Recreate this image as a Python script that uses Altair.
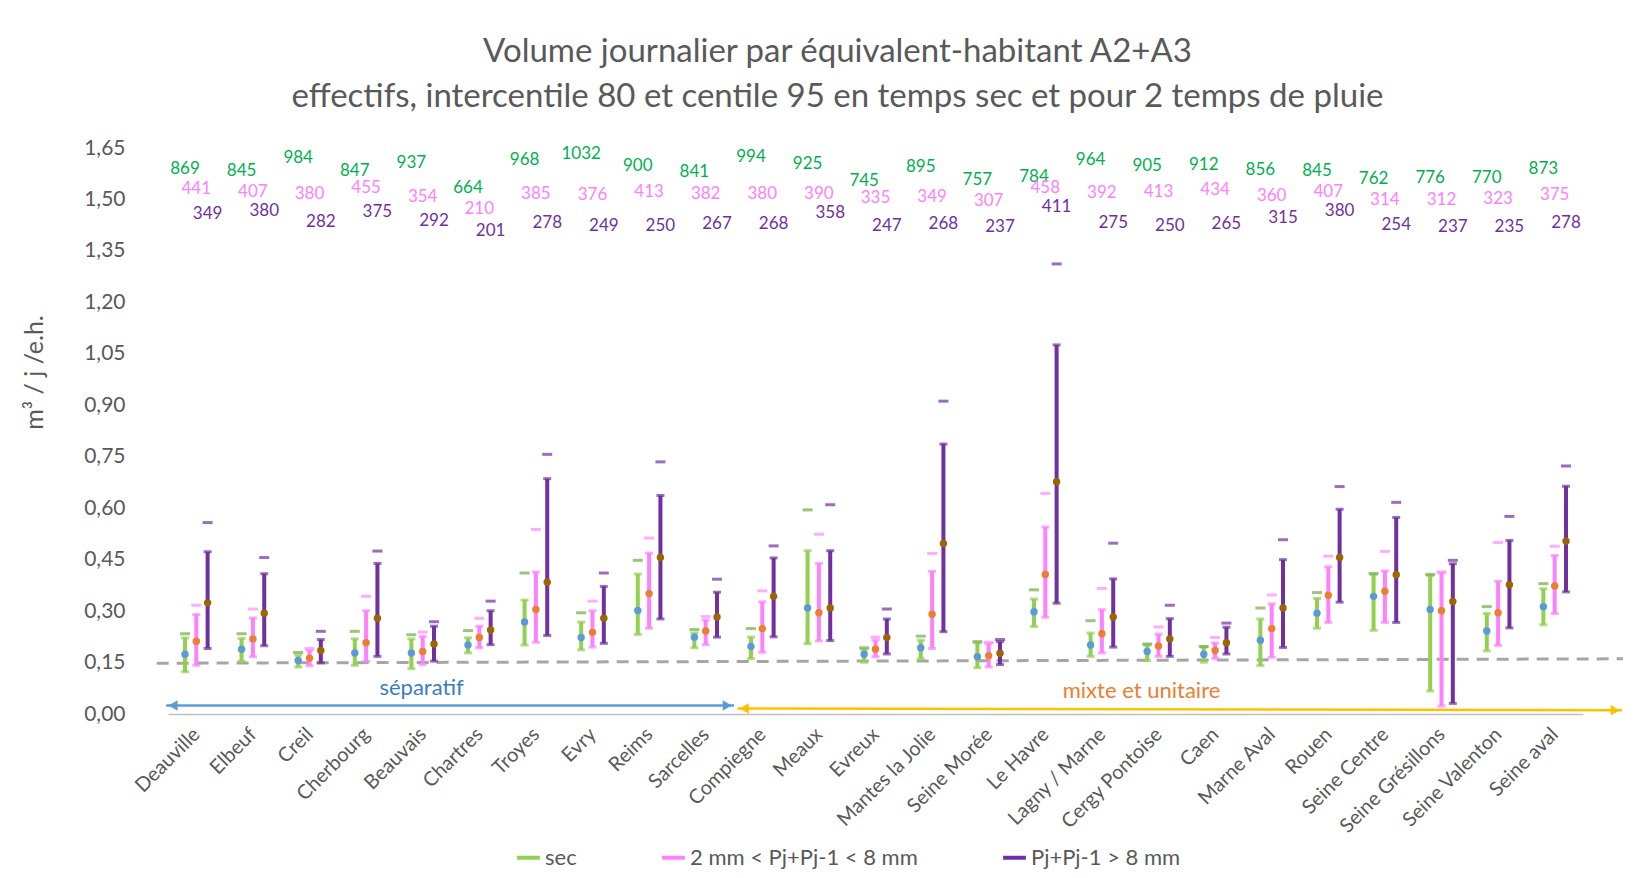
import json
import altair as alt
import pandas as pd

cities = ["Deauville", "Elbeuf", "Creil", "Cherbourg", "Beauvais", "Chartres", "Troyes",
          "Evry", "Reims", "Sarcelles", "Compiegne", "Meaux", "Evreux", "Mantes la Jolie",
          "Seine Morée", "Le Havre", "Lagny / Marne", "Cergy Pontoise", "Caen", "Marne Aval",
          "Rouen", "Seine Centre", "Seine Grésillons", "Seine Valenton", "Seine aval"]

# sec (temps sec): P10, P90, médiane, centile 95
sec_lo = [0.123, 0.154, 0.137, 0.142, 0.132, 0.178, 0.201, 0.187, 0.232, 0.193, 0.161, 0.205, 0.151,
          0.161, 0.135, 0.255, 0.168, 0.156, 0.151, 0.141, 0.250, 0.244, 0.067, 0.184, 0.260]
sec_hi = [0.222, 0.220, 0.171, 0.219, 0.219, 0.222, 0.332, 0.268, 0.408, 0.236, 0.224, 0.476, 0.188,
          0.215, 0.207, 0.335, 0.236, 0.201, 0.195, 0.277, 0.337, 0.406, 0.403, 0.293, 0.365]
sec_mid = [0.174, 0.189, 0.156, 0.178, 0.178, 0.201, 0.268, 0.223, 0.302, 0.224, 0.197, 0.309, 0.174,
           0.193, 0.167, 0.298, 0.201, 0.182, 0.174, 0.215, 0.294, 0.343, 0.305, 0.242, 0.313]
sec_c95 = [0.234, 0.234, 0.179, 0.241, 0.231, 0.243, 0.411, 0.295, 0.448, 0.246, 0.249, 0.595, 0.193,
           0.227, 0.211, 0.362, 0.272, 0.204, 0.197, 0.309, 0.354, 0.410, 0.407, 0.313, 0.380]

# 2 mm < Pj+Pj-1 < 8 mm
p28_lo = [0.142, 0.167, 0.141, 0.154, 0.144, 0.193, 0.209, 0.195, 0.250, 0.202, 0.180, 0.213, 0.167,
          0.191, 0.137, 0.282, 0.178, 0.168, 0.162, 0.165, 0.267, 0.267, 0.023, 0.200, 0.293]
p28_hi = [0.290, 0.280, 0.186, 0.301, 0.226, 0.256, 0.414, 0.301, 0.469, 0.274, 0.327, 0.439, 0.215,
          0.416, 0.205, 0.545, 0.304, 0.233, 0.207, 0.321, 0.429, 0.417, 0.412, 0.387, 0.462]
p28_mid = [0.212, 0.219, 0.163, 0.208, 0.182, 0.223, 0.305, 0.238, 0.351, 0.242, 0.249, 0.295, 0.189,
           0.291, 0.170, 0.407, 0.234, 0.198, 0.185, 0.249, 0.346, 0.358, 0.301, 0.295, 0.373]
p28_c95 = [0.317, 0.306, 0.191, 0.343, 0.239, 0.279, 0.538, 0.329, 0.513, 0.284, 0.359, 0.524, 0.224,
           0.468, 0.209, 0.643, 0.366, 0.254, 0.223, 0.347, 0.460, 0.474, 0.414, 0.500, 0.489]

# Pj+Pj-1 > 8 mm
p8_lo = [0.191, 0.199, 0.149, 0.168, 0.154, 0.202, 0.229, 0.206, 0.277, 0.224, 0.225, 0.214, 0.175,
         0.240, 0.144, 0.323, 0.195, 0.168, 0.175, 0.194, 0.326, 0.267, 0.031, 0.251, 0.356]
p8_hi = [0.473, 0.409, 0.217, 0.439, 0.256, 0.301, 0.686, 0.372, 0.637, 0.355, 0.455, 0.476, 0.277,
         0.787, 0.211, 1.076, 0.394, 0.278, 0.253, 0.450, 0.597, 0.573, 0.438, 0.506, 0.664]
p8_mid = [0.324, 0.294, 0.185, 0.279, 0.204, 0.245, 0.384, 0.279, 0.456, 0.283, 0.343, 0.309, 0.223,
          0.497, 0.177, 0.677, 0.283, 0.219, 0.208, 0.309, 0.456, 0.406, 0.328, 0.377, 0.504]
p8_c95 = [0.558, 0.456, 0.241, 0.475, 0.269, 0.329, 0.757, 0.411, 0.735, 0.393, 0.490, 0.610, 0.306,
          0.912, 0.217, 1.312, 0.498, 0.317, 0.265, 0.508, 0.663, 0.617, 0.448, 0.576, 0.723]

# effectifs
sec_n = [869, 845, 984, 847, 937, 664, 968, 1032, 900, 841, 994, 925, 745, 895, 757, 784, 964, 905,
         912, 856, 845, 762, 776, 770, 873]
p28_n = [441, 407, 380, 455, 354, 210, 385, 376, 413, 382, 380, 390, 335, 349, 307, 458, 392, 413,
         434, 360, 407, 314, 312, 323, 375]
p8_n = [349, 380, 282, 375, 292, 201, 278, 249, 250, 267, 268, 358, 247, 268, 237, 411, 275, 250,
        265, 315, 380, 254, 237, 235, 278]

series_names = ["sec", "2 mm < Pj+Pj-1 < 8 mm", "Pj+Pj-1 >  8 mm"]

# annotation / reference geometry (data space)
ref_x = [-0.7, 25.4]
ref_y = [0.148, 0.161]
sep_x = [-0.53, 9.5]
sep_y = [0.025, 0.025]
mix_x = [9.56, 25.19]
mix_y = [0.016, 0.011]

# styles
bar_colors = ["#92D050", "#FF80FF", "#7030A0"]
dash_colors = ["#70AD47", "#FF8CFF", "#7030A0"]
dot_colors = ["#5B9BD5", "#ED7D31", "#9C6500"]
text_colors = ["#00B050", "#FF80FF", "#7030A0"]
offsets = [-0.2, 0.0, 0.2]
label_base = [1.351, 1.417, 1.340]
label_slope = [0.000273, 0.000257, 0.000333]
FONT = "Lato"
GREY = "#595959"

rows = []
groups = [(sec_lo, sec_hi, sec_mid, sec_c95, sec_n),
          (p28_lo, p28_hi, p28_mid, p28_c95, p28_n),
          (p8_lo, p8_hi, p8_mid, p8_c95, p8_n)]
for s, (lo, hi, mid, c95, n) in enumerate(groups):
    for i, c in enumerate(cities):
        rows.append({"idx": i, "city": c, "s": s, "series": series_names[s],
                     "lo": lo[i], "hi": hi[i], "mid": mid[i], "c95": c95[i], "n": n[i],
                     "bar_col": bar_colors[s], "dash_col": dash_colors[s],
                     "dot_col": dot_colors[s], "txt_col": text_colors[s]})
df = pd.DataFrame(rows)

label_expr = json.dumps(cities, ensure_ascii=False) + "[datum.value]"
ytitle = "m³ / j /e.h."

xscale = alt.Scale(domain=[-0.5, 24.5], nice=False, zero=False)
yscale = alt.Scale(domain=[0, 1.65], nice=False, zero=True)

xaxis = alt.Axis(values=list(range(25)), labelExpr=label_expr, labelAngle=-45,
                 labelAlign="right", labelBaseline="middle", labelFontSize=20,
                 labelColor=GREY, labelPadding=17, ticks=False, grid=False,
                 domainColor="#BFBFBF", domainWidth=1.5, labelFont=FONT, labelOverlap=False)
yaxis = alt.Axis(values=[round(0.15 * k, 2) for k in range(12)],
                 labelExpr="replace(format(datum.value, '.2f'), '.', ',')",
                 labelFontSize=21, labelColor=GREY, labelPadding=43, ticks=False,
                 domain=False, grid=False, labelFont=FONT,
                 titleFont=FONT, titleFontSize=25, titleColor=GREY, titleFontWeight="normal",
                 titleX=-134, titleY=224, titleAlign="center", titleBaseline="middle",
                 titleAngle=-90)


def X(field="xp"):
    return alt.X(f"{field}:Q", scale=xscale, axis=xaxis, title=None)


def Y(field):
    return alt.Y(f"{field}:Q", scale=yscale, axis=yaxis, title=ytitle)


base = alt.Chart(df).transform_calculate(
    xp=f"datum.idx + {json.dumps(offsets)}[datum.s]",
    ly=f"{json.dumps(label_base)}[datum.s] + {json.dumps(label_slope)}[datum.s] * datum.n",
)

bars = base.mark_rule(strokeWidth=4).encode(
    x=X(), y=Y("lo"), y2="hi:Q",
    color=alt.Color("series:N",
                    scale=alt.Scale(domain=series_names, range=bar_colors),
                    legend=alt.Legend(title=None, orient="none", direction="horizontal",
                                      legendX=347, legendY=696, columnPadding=77,
                                      labelFontSize=22, labelColor=GREY, labelFont=FONT,
                                      labelLimit=500,
                                      symbolType="stroke", symbolStrokeWidth=4,
                                      symbolSize=520, labelOffset=3, padding=0)),
)
cap_lo = base.mark_tick(orient="horizontal", size=8, thickness=3).encode(
    x=X(), y=Y("lo"), color=alt.Color("bar_col:N", scale=None))
cap_hi = base.mark_tick(orient="horizontal", size=8, thickness=3).encode(
    x=X(), y=Y("hi"), color=alt.Color("bar_col:N", scale=None))
dash = base.mark_tick(orient="horizontal", size=10, thickness=3).encode(
    x=X(), y=Y("c95"), color=alt.Color("dash_col:N", scale=None))
dots = base.mark_point(filled=True, size=55, opacity=1).encode(
    x=X(), y=Y("mid"), color=alt.Color("dot_col:N", scale=None))
labels = base.mark_text(font=FONT, fontSize=17, baseline="middle", align="center").encode(
    x=X(), y=Y("ly"), text="n:Q", color=alt.Color("txt_col:N", scale=None))

ref_df = pd.DataFrame({"xp": ref_x, "y": ref_y})
ref = alt.Chart(ref_df).mark_line(color="#A6A6A6", strokeWidth=3, strokeDash=[12, 8]).encode(
    x=X(), y=Y("y"))

arr_df = pd.DataFrame({
    "xp": [sep_x[0], mix_x[0]], "x2": [sep_x[1], mix_x[1]],
    "y": [sep_y[0], mix_y[0]], "y2": [sep_y[1], mix_y[1]],
    "col": ["#5B9BD5", "#FFC000"]})
arrows = alt.Chart(arr_df).mark_rule(strokeWidth=2.5).encode(
    x=X(), x2="x2:Q", y=Y("y"), y2="y2:Q", color=alt.Color("col:N", scale=None))

heads_df = pd.DataFrame({
    "xp": [sep_x[0] + 0.12, sep_x[1] - 0.12, mix_x[0] + 0.12, mix_x[1] - 0.12],
    "y": [sep_y[0], sep_y[1], mix_y[0], mix_y[1]],
    "shape": ["triangle-left", "triangle-right", "triangle-left", "triangle-right"],
    "col": ["#5B9BD5", "#5B9BD5", "#FFC000", "#FFC000"]})
heads = alt.Chart(heads_df).mark_point(filled=True, size=110, opacity=1).encode(
    x=X(), y=Y("y"), shape=alt.Shape("shape:N", scale=None),
    color=alt.Color("col:N", scale=None))

ann_df = pd.DataFrame({"xp": [3.98, 16.7], "y": [0.077, 0.067],
                       "t": ["séparatif", "mixte et unitaire"],
                       "col": ["#3A7DC4", "#ED7D31"]})
ann = alt.Chart(ann_df).mark_text(font=FONT, fontSize=22, baseline="middle").encode(
    x=X(), y=Y("y"), text="t:N", color=alt.Color("col:N", scale=None))

chart = alt.layer(ref, arrows, heads, ann, bars, cap_lo, cap_hi, dash, dots, labels).properties(
    width=1415, height=566,
    autosize=alt.AutoSizeParams(type="none"),
    padding={"left": 160, "top": 140, "right": 40, "bottom": 156},
    title=alt.TitleParams(
        text=["Volume journalier par équivalent-habitant A2+A3",
              "effectifs, intercentile 80 et centile 95 en temps sec et pour 2 temps de pluie"],
        font=FONT, fontSize=33, fontWeight="normal", color=GREY, anchor="middle",
        lineHeight=45, offset=23, dx=-38),
).configure(font=FONT).configure_view(stroke="transparent", strokeWidth=0)

chart.save("out.html", embed_options={"renderer": "svg", "actions": False})
